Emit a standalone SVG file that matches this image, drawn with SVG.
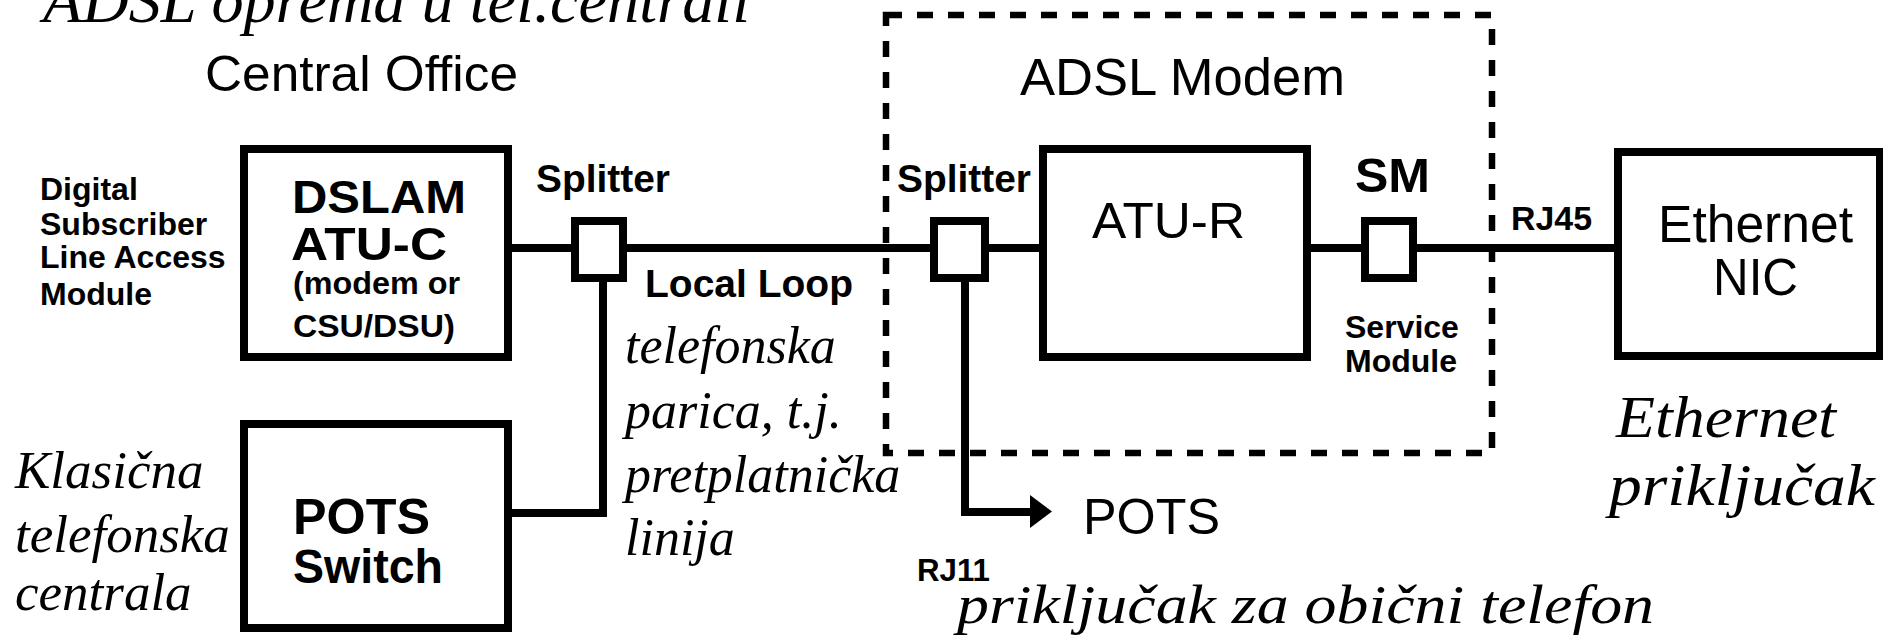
<svg xmlns="http://www.w3.org/2000/svg" width="1883" height="641" viewBox="0 0 1883 641">
<style>
.bg{fill:#fff}
.box{fill:#fff;stroke:#000;stroke-width:8}
.sp{fill:#fff;stroke:#000;stroke-width:8}
.ln{fill:none;stroke:#000;stroke-width:8}
.dash{fill:none;stroke:#000;stroke-width:6.5;stroke-dasharray:16 15}
.s{font-family:"Liberation Sans",Arial,sans-serif;fill:#000}
.b{font-weight:bold}
.i{font-family:"Liberation Serif","Times New Roman",serif;font-style:italic;fill:#000}
</style>
<rect class="bg" x="0" y="0" width="1883" height="641"/>

<text class="i" x="43" y="22" font-size="63" textLength="707" lengthAdjust="spacingAndGlyphs">ADSL oprema u tel.centrali</text>
<text class="s" x="205" y="91" font-size="50" textLength="313" lengthAdjust="spacingAndGlyphs">Central Office</text>

<g id="adsl-modem">
<rect class="dash" x="886" y="15" width="606" height="438"/>
<text class="s" x="1020" y="95" font-size="51" textLength="325" lengthAdjust="spacingAndGlyphs">ADSL Modem</text>
</g>

<g id="connectors">
<line class="ln" x1="512" y1="248" x2="571" y2="248"/>
<line class="ln" x1="627" y1="248" x2="930" y2="248"/>
<line class="ln" x1="989" y1="248" x2="1039" y2="248"/>
<line class="ln" x1="1311" y1="248" x2="1361" y2="248"/>
<line class="ln" x1="1417" y1="248" x2="1614" y2="248"/>
<path class="ln" d="M603 282 V513 H512"/>
<path class="ln" d="M965 282 V512 H1032"/>
<polygon points="1030,495 1052,511.5 1030,528" fill="#000"/>
</g>

<g id="dslam-label">
<text class="s b" font-size="32"><tspan x="40" y="200">Digital</tspan><tspan x="40" y="235">Subscriber</tspan><tspan x="40" y="268">Line Access</tspan><tspan x="40" y="305">Module</tspan></text>
</g>

<g id="dslam">
<rect class="box" x="244" y="149" width="264" height="208"/>
<text class="s b" x="292" y="213" font-size="47" textLength="174" lengthAdjust="spacingAndGlyphs">DSLAM</text>
<text class="s b" x="291" y="260" font-size="47" textLength="156" lengthAdjust="spacingAndGlyphs">ATU-C</text>
<text class="s b" x="293" y="294" font-size="31" textLength="167" lengthAdjust="spacingAndGlyphs">(modem or</text>
<text class="s b" x="293" y="337" font-size="32" textLength="162" lengthAdjust="spacingAndGlyphs">CSU/DSU)</text>
</g>

<g id="pots-switch">
<rect class="box" x="244" y="424" width="264" height="204"/>
<text class="s b" x="293" y="534" font-size="50" textLength="137" lengthAdjust="spacingAndGlyphs">POTS</text>
<text class="s b" x="293" y="583" font-size="48" textLength="150" lengthAdjust="spacingAndGlyphs">Switch</text>
</g>

<g id="pots-label">
<text class="i" font-size="53"><tspan x="15" y="488">Klasična</tspan><tspan x="15" y="552">telefonska</tspan><tspan x="15" y="610">centrala</tspan></text>
</g>

<g id="splitter1">
<rect class="sp" x="575" y="221" width="48" height="57"/>
<text class="s b" x="536" y="192" font-size="39" textLength="134" lengthAdjust="spacingAndGlyphs">Splitter</text>
</g>

<g id="local-loop">
<text class="s b" x="645" y="297" font-size="39" textLength="208" lengthAdjust="spacingAndGlyphs">Local Loop</text>
<text class="i" font-size="52"><tspan x="625" y="363">telefonska</tspan><tspan x="625" y="428">parica, t.j.</tspan><tspan x="625" y="492">pretplatnička</tspan><tspan x="625" y="555">linija</tspan></text>
</g>

<g id="splitter2">
<rect class="sp" x="934" y="221" width="51" height="57"/>
<text class="s b" x="897" y="192" font-size="39" textLength="134" lengthAdjust="spacingAndGlyphs">Splitter</text>
</g>

<g id="atu-r">
<rect class="box" x="1043" y="149" width="264" height="208"/>
<text class="s" x="1092" y="238" font-size="50" textLength="153" lengthAdjust="spacingAndGlyphs">ATU-R</text>
</g>

<g id="sm">
<rect class="sp" x="1365" y="221" width="48" height="57"/>
<text class="s b" x="1355" y="192" font-size="48" textLength="75" lengthAdjust="spacingAndGlyphs">SM</text>
<text class="s b" font-size="32"><tspan x="1345" y="338">Service</tspan><tspan x="1345" y="372">Module</tspan></text>
</g>

<g id="rj45">
<text class="s b" x="1511" y="230" font-size="34" textLength="81" lengthAdjust="spacingAndGlyphs">RJ45</text>
</g>

<g id="nic">
<rect class="box" x="1618" y="152" width="262" height="204"/>
<text class="s" x="1658" y="242" font-size="51" textLength="195" lengthAdjust="spacingAndGlyphs">Ethernet</text>
<text class="s" x="1713" y="295" font-size="51" textLength="85" lengthAdjust="spacingAndGlyphs">NIC</text>
</g>

<g id="nic-label">
<text class="i" x="1616" y="437" font-size="60" textLength="220" lengthAdjust="spacingAndGlyphs">Ethernet</text>
<text class="i" x="1609" y="505" font-size="60" textLength="266" lengthAdjust="spacingAndGlyphs">priključak</text>
</g>

<g id="pots-out">
<text class="s" x="1083" y="534" font-size="50" textLength="137" lengthAdjust="spacingAndGlyphs">POTS</text>
<text class="s b" x="917" y="581" font-size="31" textLength="73" lengthAdjust="spacingAndGlyphs">RJ11</text>
<text class="i" x="957" y="623" font-size="55" textLength="697" lengthAdjust="spacingAndGlyphs">priključak za obični telefon</text>
</g>
</svg>
